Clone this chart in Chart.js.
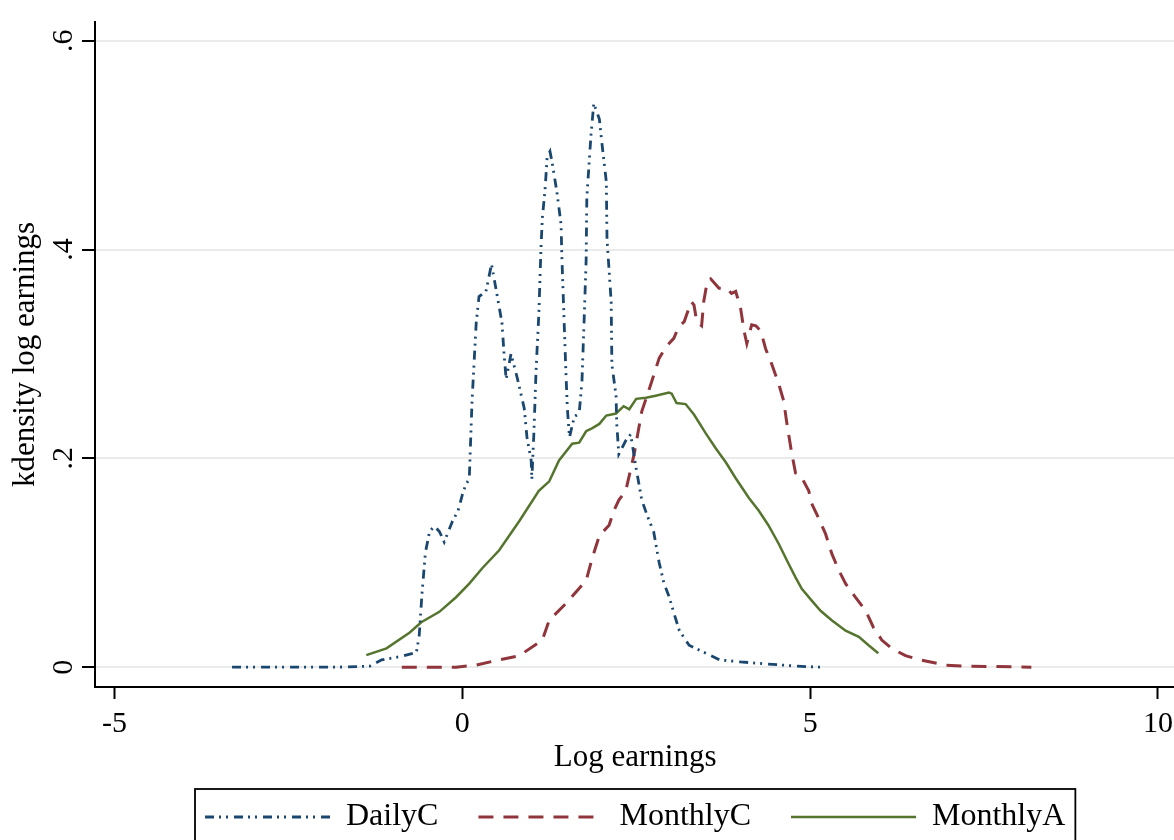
<!DOCTYPE html>
<html>
<head>
<meta charset="utf-8">
<title>kdensity log earnings</title>
<style>
  html, body { margin: 0; padding: 0; overflow: hidden; background: #fff; }
  #kdens { display: block; }
</style>
</head>
<body>
<canvas id="kdens" width="1180" height="843"></canvas>
<script src="https://cdn.jsdelivr.net/npm/chart.js@4.4.0/dist/chart.umd.min.js"></script>
<script>
// kernel density curves
var dailyX = [-3.31,-2.5,-1.8,-1.33,-1.16,-0.9,-0.66,-0.62,-0.58,-0.53,-0.47,-0.40,-0.33,-0.26,-0.20,-0.14,-0.06,0.00,0.05,0.10,0.14,0.20,0.24,0.34,0.42,0.49,0.57,0.60,0.63,0.70,0.79,0.89,0.93,0.99,1.00,1.03,1.06,1.10,1.13,1.15,1.19,1.22,1.26,1.29,1.36,1.42,1.43,1.46,1.49,1.51,1.54,1.61,1.68,1.72,1.75,1.78,1.79,1.85,1.89,1.97,2.01,2.07,2.08,2.14,2.15,2.21,2.22,2.25,2.35,2.42,2.50,2.58,2.66,2.75,2.83,2.90,2.97,3.05,3.12,3.26,3.45,3.70,4.00,4.40,4.80,5.15];
var dailyY = [0,0,0,0.001,0.007,0.01,0.014,0.03,0.07,0.11,0.13,0.135,0.13,0.12,0.13,0.14,0.15,0.165,0.175,0.18,0.255,0.33,0.355,0.36,0.386,0.36,0.33,0.30,0.276,0.30,0.277,0.248,0.22,0.198,0.18,0.226,0.284,0.338,0.40,0.43,0.458,0.489,0.494,0.484,0.455,0.424,0.395,0.338,0.281,0.248,0.22,0.24,0.243,0.274,0.33,0.39,0.45,0.51,0.54,0.525,0.50,0.465,0.41,0.35,0.29,0.26,0.233,0.204,0.217,0.223,0.19,0.16,0.145,0.13,0.10,0.08,0.068,0.05,0.035,0.021,0.015,0.007,0.005,0.003,0.001,0];

var monthlyCX = [-0.87,-0.09,0.20,0.53,0.82,1.15,1.25,1.49,1.78,1.87,1.97,2.11,2.18,2.25,2.35,2.47,2.58,2.71,2.83,2.93,3.04,3.11,3.19,3.29,3.33,3.37,3.44,3.47,3.52,3.57,3.69,3.80,3.87,3.93,4.00,4.05,4.09,4.16,4.22,4.29,4.36,4.45,4.55,4.62,4.66,4.73,4.79,4.86,4.98,5.02,5.12,5.22,5.31,5.41,5.51,5.65,5.80,5.91,6.03,6.17,6.37,6.60,6.94,7.23,8.18];
var monthlyCY = [0,0,0.002,0.007,0.011,0.026,0.045,0.061,0.083,0.105,0.126,0.136,0.15,0.16,0.169,0.204,0.245,0.271,0.296,0.307,0.315,0.326,0.331,0.35,0.347,0.331,0.327,0.35,0.369,0.372,0.363,0.363,0.358,0.36,0.344,0.322,0.31,0.328,0.327,0.322,0.305,0.29,0.271,0.255,0.236,0.207,0.186,0.184,0.169,0.157,0.143,0.128,0.109,0.093,0.08,0.067,0.054,0.038,0.026,0.018,0.011,0.0067,0.002,0.001,0];

var monthlyAX = [-1.38,-1.09,-0.76,-0.59,-0.33,-0.09,0.10,0.29,0.53,0.82,1.10,1.25,1.39,1.58,1.68,1.78,1.87,1.97,2.07,2.21,2.32,2.40,2.50,2.64,2.78,2.97,3.01,3.08,3.21,3.33,3.50,3.64,3.79,3.93,4.12,4.26,4.40,4.55,4.69,4.79,4.88,5.02,5.15,5.31,5.51,5.70,5.84,5.98];
var monthlyAY = [0.0115,0.018,0.033,0.043,0.053,0.067,0.08,0.095,0.112,0.14,0.169,0.178,0.198,0.214,0.215,0.226,0.229,0.233,0.241,0.243,0.25,0.247,0.257,0.258,0.26,0.263,0.262,0.253,0.252,0.242,0.224,0.21,0.196,0.181,0.162,0.15,0.136,0.118,0.099,0.086,0.075,0.064,0.054,0.045,0.035,0.029,0.021,0.0134];

var seriesNames = ["DailyC", "MonthlyC", "MonthlyA"];
var xTickValues = [-5, 0, 5, 10];
var xTickLabels = ["-5", "0", "5", "10"];
var yTickValues = [0, 0.2, 0.4, 0.6];
var yTickLabels = ["0", ".2", ".4", ".6"];

var SERIF = "'Liberation Serif', 'Times New Roman', serif";

function toPoints(xs, ys) {
  var pts = [];
  for (var i = 0; i < xs.length; i++) pts.push({x: xs[i], y: ys[i]});
  return pts;
}

// stata style box around the legend
var legendFrame = {
  id: 'legendFrame',
  afterDraw: function(chart) {
    var boxes = chart.legend.legendHitBoxes;
    if (!boxes || !boxes.length) return;
    var l = Infinity, r = -Infinity;
    boxes.forEach(function(b) {
      l = Math.min(l, b.left);
      r = Math.max(r, b.left + b.width);
    });
    var mid = boxes[0].top + boxes[0].height / 2;
    var ctx = chart.ctx;
    ctx.save();
    ctx.strokeStyle = '#000';
    ctx.lineWidth = 1.8;
    ctx.strokeRect(l - 10, mid - 28, (r - l) + 20, 56);
    ctx.restore();
  }
};

Chart.defaults.color = '#000';
Chart.defaults.font.family = SERIF;

var ctx = document.getElementById('kdens').getContext('2d');
var kChart = new Chart(ctx, {
  type: 'line',
  data: {
    datasets: [
      {
        label: seriesNames[0],
        data: toPoints(dailyX, dailyY),
        borderColor: '#1a476f',
        borderWidth: 2.8,
        borderDash: [9, 5, 2, 5, 2, 6],
        pointRadius: 0,
        tension: 0,
        fill: false
      },
      {
        label: seriesNames[1],
        data: toPoints(monthlyCX, monthlyCY),
        borderColor: '#90353b',
        borderWidth: 3,
        borderDash: [15, 10],
        pointRadius: 0,
        tension: 0,
        fill: false
      },
      {
        label: seriesNames[2],
        data: toPoints(monthlyAX, monthlyAY),
        borderColor: '#55752f',
        borderWidth: 2.5,
        pointRadius: 0,
        tension: 0,
        fill: false
      }
    ]
  },
  options: {
    responsive: false,
    animation: false,
    layout: { padding: { top: 20, right: 2, bottom: 0, left: 0 } },
    plugins: {
      tooltip: { enabled: false },
      legend: {
        position: 'bottom',
        fullSize: false,
        labels: {
          usePointStyle: true,
          pointStyle: 'line',
          pointStyleWidth: 125,
          padding: 40,
          color: '#000',
          font: { family: SERIF, size: 32 },
          generateLabels: function(chart) {
            var items = Chart.defaults.plugins.legend.labels.generateLabels(chart);
            items.forEach(function(it) {
              var ds = chart.data.datasets[it.datasetIndex];
              it.lineDash = ds.borderDash || [];
              it.lineWidth = ds.borderWidth;
              it.strokeStyle = ds.borderColor;
              it.fillStyle = ds.borderColor;
            });
            return items;
          }
        }
      }
    },
    scales: {
      x: {
        type: 'linear',
        min: -5.28,
        max: 10.25,
        afterBuildTicks: function(axis) {
          axis.ticks = xTickValues.map(function(v) { return {value: v}; });
        },
        ticks: {
          autoSkip: false,
          maxRotation: 0,
          padding: 7,
          font: { family: SERIF, size: 30 },
          callback: function(v) { return xTickLabels[xTickValues.indexOf(v)]; }
        },
        grid: { drawOnChartArea: false, drawTicks: true, tickLength: 12, tickColor: '#000', tickWidth: 2 },
        border: { color: '#000', width: 2 },
        title: {
          display: true,
          text: 'Log earnings',
          font: { family: SERIF, size: 31 },
          padding: { top: -9.6, bottom: -15.6 }
        }
      },
      y: {
        type: 'linear',
        min: -0.019,
        max: 0.618,
        afterBuildTicks: function(axis) {
          axis.ticks = yTickValues.map(function(v) { return {value: v}; });
        },
        ticks: {
          autoSkip: false,
          minRotation: 90,
          maxRotation: 90,
          crossAlign: 'center',
          padding: 7,
          font: { family: SERIF, size: 30, lineHeight: 1.0 },
          callback: function(v) { return yTickLabels[yTickValues.indexOf(v)]; }
        },
        grid: { color: '#ebebeb', lineWidth: 2, drawTicks: true, tickLength: 13, tickColor: '#000', tickWidth: 2 },
        border: { color: '#000', width: 2 },
        title: {
          display: true,
          text: 'kdensity log earnings',
          font: { family: SERIF, size: 31, lineHeight: 1.0 },
          padding: { top: 10, bottom: -3 }
        }
      }
    }
  },
  plugins: [legendFrame]
});
</script>
</body>
</html>
